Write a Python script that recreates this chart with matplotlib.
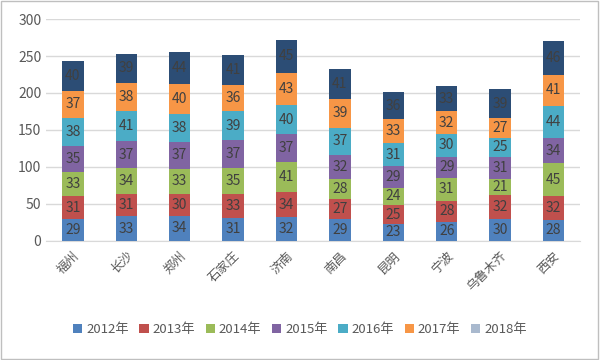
import matplotlib
matplotlib.use('Agg')
import matplotlib.pyplot as plt
from matplotlib.patches import Patch, Rectangle
import numpy as np

plt.rcParams['font.family'] = ['Noto Sans CJK SC', 'DejaVu Sans']

# 数据
cities = ['福州', '长沙', '郑州', '石家庄', '济南', '南昌', '昆明', '宁波', '乌鲁木齐', '西安']
years = ['2012年', '2013年', '2014年', '2015年', '2016年', '2017年', '2018年']
v2012 = [29, 33, 34, 31, 32, 29, 23, 26, 30, 28]
v2013 = [31, 31, 30, 33, 34, 27, 25, 28, 32, 32]
v2014 = [33, 34, 33, 35, 41, 28, 24, 31, 21, 45]
v2015 = [35, 37, 37, 37, 37, 32, 29, 29, 31, 34]
v2016 = [38, 41, 38, 39, 40, 37, 31, 30, 25, 44]
v2017 = [37, 38, 40, 36, 43, 39, 33, 32, 27, 41]
v2018 = [40, 39, 44, 41, 45, 41, 36, 33, 39, 46]
series = [v2012, v2013, v2014, v2015, v2016, v2017, v2018]

colors = ['#4F81BD', '#C0504D', '#9BBB59', '#8064A2', '#4BACC6', '#F79646', '#2C4D75']
legend_colors = colors[:6] + ['#A9B9CE']

fig = plt.figure(figsize=(6, 3.6), dpi=100)
ax = fig.add_axes([0.077, 0.331, 0.89, 0.616])

x = np.arange(len(cities))
bottom = np.zeros(len(cities))
for vals, c in zip(series, colors):
    ax.bar(x, vals, 0.4, bottom=bottom, color=c, zorder=3)
    for xi, b, v in zip(x, bottom, vals):
        ax.text(xi, b + v / 2, str(v), ha='center', va='center',
                fontsize=10, color='#404040', zorder=4)
    bottom += np.array(vals)

ax.set_ylim(0, 300)
ax.set_yticks(range(0, 301, 50))
ax.set_xlim(-0.5, len(cities) - 0.5)
ax.set_xticks(x)
ax.set_xticklabels(cities, rotation=45, ha='right', rotation_mode='anchor',
                   fontsize=9, color='#595959')
ax.tick_params(axis='y', labelsize=10, colors='#595959', length=0)
ax.tick_params(axis='x', length=0, pad=6)
ax.grid(axis='y', color='#D9D9D9', linewidth=1, zorder=0)
for s in ['top', 'right', 'left']:
    ax.spines[s].set_visible(False)
ax.spines['bottom'].set_color('#D9D9D9')

handles = [Patch(facecolor=c, label=y) for c, y in zip(legend_colors, years)]
fig.legend(handles=handles, loc='center', bbox_to_anchor=(0.5, 0.085), ncol=7,
           frameon=False, fontsize=9.5, handlelength=0.7, handleheight=0.7,
           handletextpad=0.3, columnspacing=0.8, labelcolor='#595959')

# 外框
fig.patches.append(Rectangle((0.002, 0.003), 0.995, 0.993, transform=fig.transFigure,
                             fill=False, edgecolor='#BFBFBF', linewidth=1))

plt.savefig('out.png', dpi=100)
